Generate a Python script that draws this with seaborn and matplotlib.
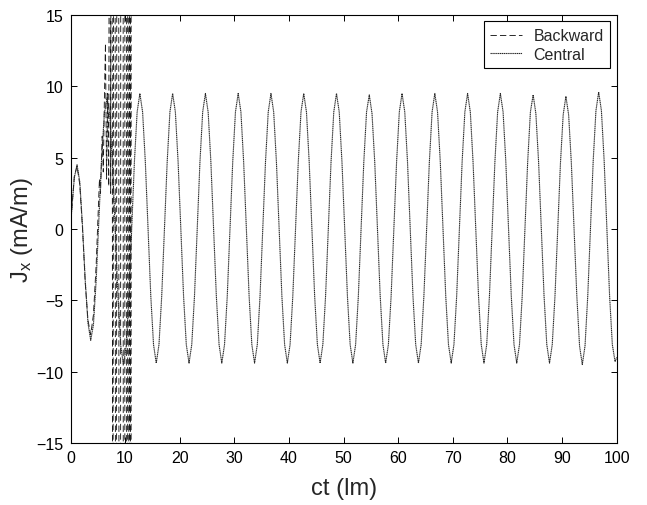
import numpy as np
import pandas as pd
import matplotlib
matplotlib.use("Agg")
import matplotlib.pyplot as plt
import seaborn as sns

# ---------------- data ----------------
# Central-difference solution, sampled at ct = 0, 0.2, 0.7, ..., 99.7, 100
ct_central = [0.0] + list(np.arange(0.2, 99.75, 0.5)) + [100.0]
jx_central = (
    [0.0]
    # start-up transient, ct = 0.2 ... 12.2
    + [1.2, 3.6, 4.5, 3.3, 0.2, -3.6, -6.6, -7.8, -6.7, -3.6, 0.7, 5.0, 8.1,
       9.2, 8.0, 4.5, -0.2, -4.8, -8.2, -9.5, -8.2, -4.7, 0.0, 4.7, 8.2]
    # steady oscillation, ct = 12.7 ... 99.7
    + [9.5, 8.2, 4.7, 0.0, -4.7, -8.1, -9.4, -8.1, -4.7, 0.0, 4.7, 8.2]
    + [9.5, 8.2, 4.7, 0.0, -4.7, -8.1, -9.4, -8.1, -4.7, 0.0, 4.7, 8.2]
    + [9.5, 8.2, 4.7, 0.0, -4.7, -8.1, -9.4, -8.1, -4.7, 0.0, 4.7, 8.2]
    + [9.5, 8.2, 4.7, 0.0, -4.7, -8.1, -9.4, -8.1, -4.7, 0.0, 4.7, 8.2]
    + [9.5, 8.2, 4.7, 0.0, -4.7, -8.1, -9.4, -8.1, -4.7, 0.0, 4.7, 8.2]
    + [9.5, 8.2, 4.7, 0.0, -4.7, -8.1, -9.4, -8.1, -4.7, 0.0, 4.7, 8.2]
    + [9.5, 8.2, 4.7, 0.0, -4.7, -8.1, -9.4, -8.1, -4.7, 0.0, 4.7, 8.2]
    + [9.4, 8.1, 4.7, 0.0, -4.7, -8.1, -9.4, -8.1, -4.7, 0.0, 4.7, 8.2]
    + [9.5, 8.2, 4.7, 0.0, -4.7, -8.1, -9.4, -8.1, -4.7, 0.0, 4.7, 8.2]
    + [9.5, 8.2, 4.7, 0.0, -4.7, -8.1, -9.4, -8.1, -4.7, 0.0, 4.7, 8.2]
    + [9.5, 8.2, 4.7, 0.0, -4.7, -8.1, -9.4, -8.1, -4.7, 0.0, 4.7, 8.2]
    + [9.5, 8.2, 4.7, 0.0, -4.7, -8.1, -9.4, -8.1, -4.7, 0.0, 4.7, 8.2]
    + [9.4, 8.1, 4.7, 0.0, -4.7, -8.1, -9.4, -8.1, -4.7, 0.0, 4.6, 8.0]
    + [9.3, 8.0, 4.6, 0.0, -4.7, -8.2, -9.5, -8.2, -4.7, 0.0, 4.8, 8.3]
    + [9.6, 8.3, 4.8, 0.0, -4.7, -8.1, -9.3]
    + [-9.0]
)

# Backward-difference solution (diverges near ct ~ 7-11)
ct_backward = [0.0, 0.2, 0.7, 1.2, 1.7, 2.2, 2.7, 3.2, 3.7, 4.2, 4.7, 5.0,
               5.3, 5.5, 5.8, 6.0, 6.2, 6.4, 6.6, 6.8, 7.0, 7.15, 7.35, 7.55,
               7.75, 8.05, 8.35, 8.65, 9.05, 9.45, 9.85, 10.15, 10.4, 10.6,
               10.75, 10.9, 11.05, 11.2]
jx_backward = [0.0, 1.2, 3.7, 4.4, 3.1, 0.0, -3.8, -6.4, -7.4, -6.0, -2.5, 0.5,
               3.5, 2.5, 6.5, 4.0, 9.0, 13.0, 3.5, 9.5, 3.0, 40.0, 2.5, 60.0,
               -40.0, 100.0, -100.0, 200.0, -200.0, 400.0, -400.0, 800.0,
               -800.0, 1500.0, -1500.0, 3000.0, -3000.0, 6000.0]

x_ticks = [0, 10, 20, 30, 40, 50, 60, 70, 80, 90, 100]
y_ticks = [-15, -10, -5, 0, 5, 10, 15]

df_c = pd.DataFrame({"ct": ct_central, "jx": jx_central})
df_b = pd.DataFrame({"ct": ct_backward, "jx": jx_backward})

# ---------------- style ----------------
sns.set_style("ticks")
plt.rcParams.update({
    "font.family": ["Liberation Sans", "DejaVu Sans"],
    "mathtext.fontset": "custom",
    "mathtext.rm": "Liberation Sans",
    "mathtext.it": "Liberation Sans:italic",
    "xtick.direction": "in",
    "ytick.direction": "in",
    "xtick.top": True,
    "ytick.right": True,
    "axes.edgecolor": "black",
    "axes.linewidth": 0.8,
    "xtick.color": "black",
    "ytick.color": "black",
    "xtick.major.size": 4,
    "ytick.major.size": 4,
    "xtick.major.width": 0.7,
    "ytick.major.width": 0.7,
})

fig = plt.figure(figsize=(6.47, 5.06), dpi=100)
ax = fig.add_axes([70.5 / 647, 62 / 506, 546.2 / 647, 428 / 506])

sns.lineplot(data=df_b, x="ct", y="jx", ax=ax, estimator=None, sort=False,
             color="#1a1a1a", lw=0.65, linestyle=(0, (7, 3.5)), label="Backward")
sns.lineplot(data=df_c, x="ct", y="jx", ax=ax, estimator=None, sort=False,
             color="#2a2a2a", lw=0.8, linestyle=(0, (1.2, 0.5)), label="Central")

ax.set_xlim(0, 100)
ax.set_ylim(-15, 15)
ax.set_xticks(x_ticks)
ax.set_yticks(y_ticks)
ax.tick_params(labelsize=11.5, pad=5)
ax.set_xlabel("ct (lm)", fontsize=17, labelpad=9)
ax.set_ylabel(r"$\mathregular{J_x}$ (mA/m)", fontsize=17, labelpad=1)
for s in ax.spines.values():
    s.set_visible(True)
    s.set_color("black")

leg = ax.legend(loc="upper right", frameon=True, fancybox=False,
                edgecolor="black", framealpha=1, fontsize=11.5,
                handlelength=2.0, borderaxespad=0.4, borderpad=0.42,
                labelspacing=0.22, handletextpad=0.7)
leg.get_frame().set_linewidth(0.8)

fig.savefig("out.png", dpi=100)
